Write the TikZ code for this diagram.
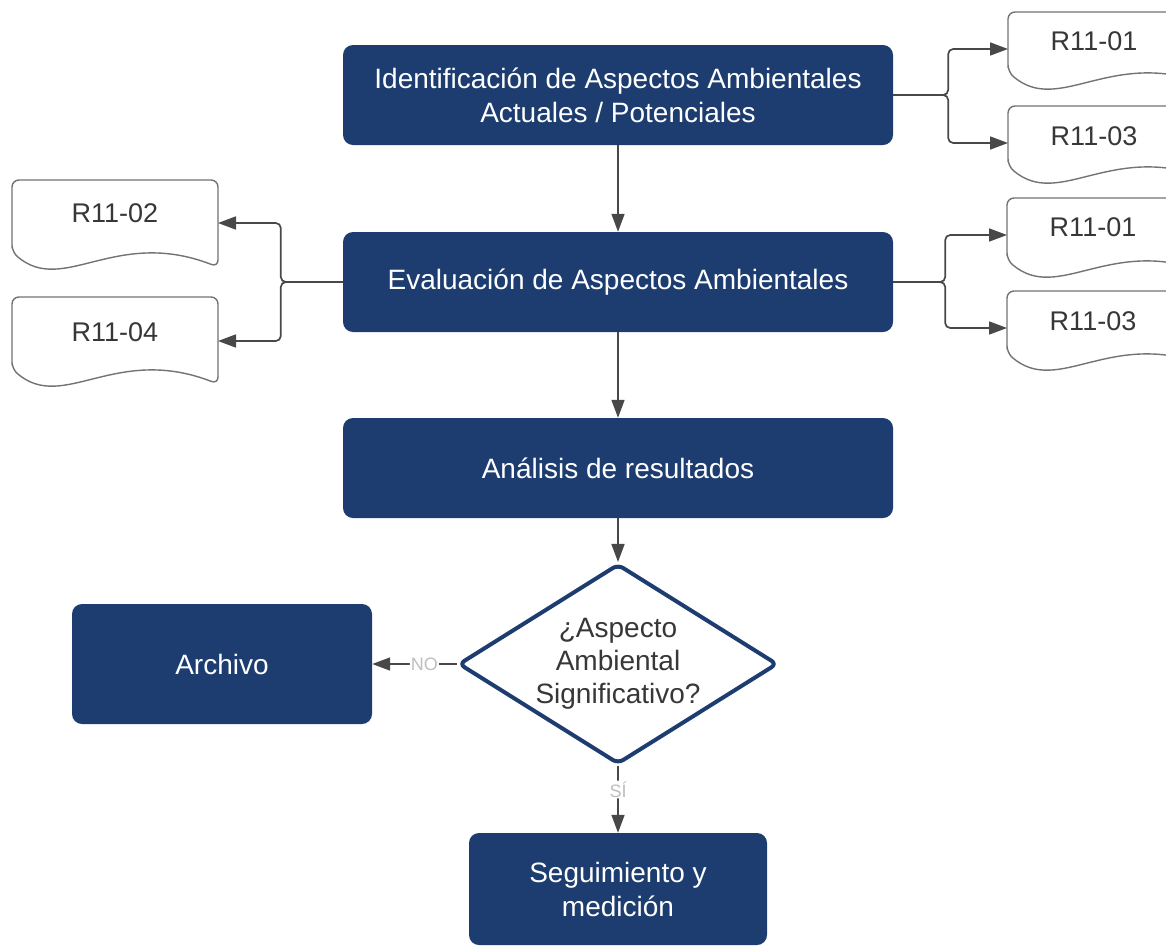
\documentclass[tikz,border=0pt]{standalone}
\usepackage{fontspec}
\setmainfont{Liberation Sans}
\usetikzlibrary{arrows.meta,shapes.geometric}

\definecolor{navy}{RGB}{29,61,112}
\definecolor{linegray}{RGB}{72,72,72}
\definecolor{docgray}{RGB}{115,115,115}
\definecolor{labgray}{RGB}{190,190,190}
\definecolor{txtgray}{RGB}{55,55,55}

\begin{document}
\begin{tikzpicture}[x=1pt, y=-1pt,
  process/.style={fill=navy, rounded corners=10pt, text=white, align=center,
    minimum width=550pt, minimum height=100pt, inner sep=0pt,
    font=\fontsize{28}{34}\selectfont},
  decision/.style={diamond, draw=navy, line width=4pt, fill=white, rounded corners=6pt,
    minimum width=319pt, minimum height=186pt, inner sep=-14pt, align=center,
    text=txtgray, font=\fontsize{28}{33}\selectfont},
  docline/.style={draw=docgray, line width=1.4pt, fill=white, rounded corners=7pt},
  arr/.style={draw=linegray, line width=1.7pt, rounded corners=5pt,
    -{Triangle[length=18pt,width=13pt]}},
  answer/.style={fill=white, text=labgray, inner sep=1pt,
    font=\fontsize{18}{18}\selectfont}]

\useasboundingbox (0,0) rectangle (1166,948);
\clip (0,0) rectangle (1166,948);

% Document width
\def\w{206}

% Main process boxes
\node[process] (ident) at (618,95) {Identificación de Aspectos Ambientales\\Actuales / Potenciales};
\node[process] (eval) at (618,282) {Evaluación de Aspectos Ambientales};
\node[process] (anal) at (618,468) {Análisis de resultados};
\node[decision] (dec) at (618,664) {¿Aspecto\\Ambiental\\Significativo?};
\node[process, minimum width=300pt, minimum height=120pt] (arch) at (222,664) {Archivo};
\node[process, minimum width=298pt, minimum height=112pt] (seg) at (618,889) {Seguimiento y\\medición};

% Record documents (name/x/y/height/text x/text y/link x/link y/label)
\foreach \n/\x/\y/\h/\tx/\ty/\cx/\ay/\lbl in {
    docIa/1008/12/60/86/29/0/37/R11-01,
    docIb/1008/106/60/86/30/0/37/R11-03,
    docEa/1007/198/62/86/29/0/37/R11-01,
    docEb/1007/291/62/86/30/0/37/R11-03,
    docEc/12/180/72/103/33/206/43/R11-02,
    docEd/12/297/72/103/35/206/44/R11-04} {
  \begin{scope}[shift={(\x,\y)}]
    \draw[docline] (0,\h) -- (0,0) -- (\w,0) -- (\w,\h+15)
      .. controls (0.5*\w,\h-25) and (0.25*\w,\h+44) .. (0,\h) -- cycle;
    \node[text=txtgray, font=\fontsize{27}{27}\selectfont] (\n-t) at (\tx,\ty) {\lbl};
    \coordinate (\n) at (\cx,\ay);
  \end{scope}
}

% Links to records
\draw[arr] (ident.east) -- ++(55,0) |- (docIa);
\draw[arr] (ident.east) -- ++(55,0) |- (docIb);
\draw[arr] (eval.east) -- ++(52,0) |- (docEa);
\draw[arr] (eval.east) -- ++(52,0) |- (docEb);
\draw[arr] (eval.west) -- ++(-62,0) |- (docEc);
\draw[arr] (eval.west) -- ++(-62,0) |- (docEd);

% Main flow
\draw[arr] (ident.south) -- (eval.north);
\draw[arr] (eval.south) -- (anal.north);
\draw[arr] (anal.south) -- (dec.north);
\draw[arr] (dec.west) -- node[answer, pos=0.38] {NO} (arch.east);
\draw[arr] (dec.south) -- node[answer, pos=0.35] {SÍ} (seg.north);

\end{tikzpicture}
\end{document}
